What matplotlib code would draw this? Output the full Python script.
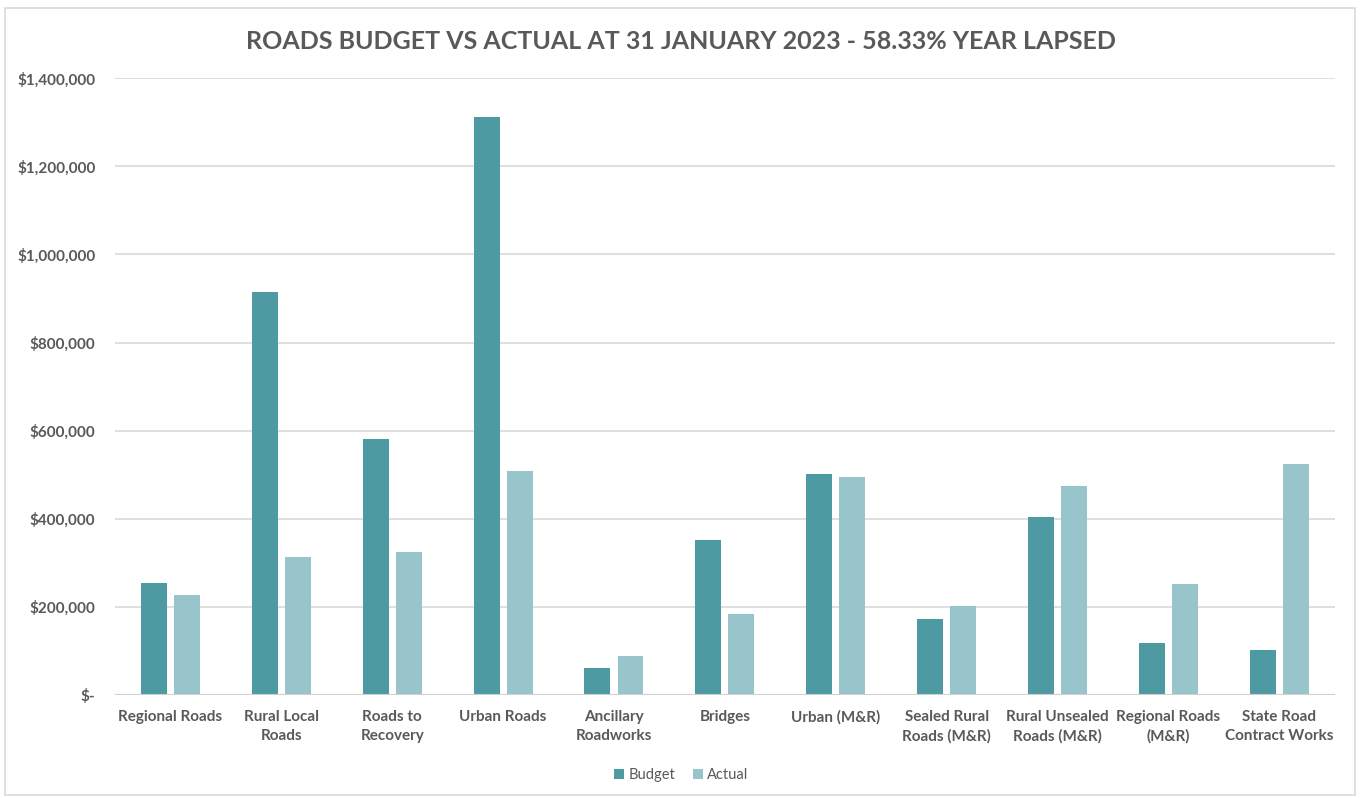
import numpy as np
import matplotlib.pyplot as plt
from matplotlib.patches import Rectangle
from matplotlib.ticker import FuncFormatter

plt.rcParams['font.family'] = ['Lato', 'DejaVu Sans']

categories = ['Regional Roads', 'Rural Local\nRoads', 'Roads to\nRecovery', 'Urban Roads',
              'Ancillary\nRoadworks', 'Bridges', 'Urban (M&R)', 'Sealed Rural\nRoads (M&R)',
              'Rural Unsealed\nRoads (M&R)', 'Regional Roads\n(M&R)', 'State Road\nContract Works']
budget = [254000, 915000, 581000, 1311000, 61000, 352000, 501000, 173000, 404000, 119000, 102000]
actual = [227000, 314000, 324000, 509000, 89000, 183000, 495000, 201000, 475000, 251000, 525000]

c_budget = '#4E9AA2'
c_actual = '#98C5CB'
grey = '#595959'

fig = plt.figure(figsize=(13.62, 7.98), dpi=100)
ax = fig.add_axes([0.0844, 0.129, 0.8956, 0.773])

x = np.arange(len(categories))
w = 0.234
off = 0.149
ax.bar(x - off, budget, w, color=c_budget, label='Budget', zorder=3)
ax.bar(x + off, actual, w, color=c_actual, label='Actual', zorder=3)

ax.set_xlim(-0.5, len(categories) - 0.5)
ax.set_ylim(0, 1400000)
ax.set_yticks(np.arange(0, 1400001, 200000))

def money(v, pos):
    if v == 0:
        return '$-'
    return '${:,.0f}'.format(v)

ax.yaxis.set_major_formatter(FuncFormatter(money))
ax.set_xticks(x)
ax.set_xticklabels(categories, fontsize=11, fontweight='bold', color=grey, linespacing=1.4)
for t in ax.get_yticklabels():
    t.set_fontsize(11)
    t.set_fontweight('bold')
    t.set_color(grey)
ax.tick_params(axis='both', length=0)
ax.tick_params(axis='y', pad=14)
ax.tick_params(axis='x', pad=11)

ax.grid(axis='y', color='#D9D9D9', linewidth=1.2, zorder=0)
for s in ax.spines.values():
    s.set_visible(False)
ax.axhline(0, color='#D0D0D0', linewidth=1.5, zorder=4)

fig.text(0.5, 0.948, 'ROADS BUDGET VS ACTUAL AT 31 JANUARY 2023 - 58.33% YEAR LAPSED',
         ha='center', va='center', fontsize=18, fontweight='bold', color=grey)

leg = fig.legend(loc='center', bbox_to_anchor=(0.5, 0.029), ncol=2, frameon=False,
                 fontsize=10.5, handlelength=0.7, handleheight=0.7, handletextpad=0.3,
                 columnspacing=1.2)
for t in leg.get_texts():
    t.set_color(grey)

fig.patches.append(Rectangle((0.004, 0.004), 0.991, 0.986, transform=fig.transFigure,
                             fill=False, edgecolor='#D9D9D9', linewidth=1.2))

fig.savefig('out.png', dpi=100, facecolor='white')
